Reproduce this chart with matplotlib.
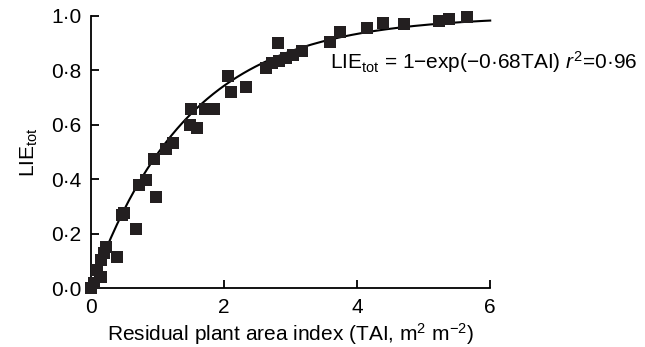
import numpy as np
import matplotlib
matplotlib.use('Agg')
from matplotlib import pyplot as plt

plt.rcParams['font.family'] = ['Liberation Sans', 'DejaVu Sans']
plt.rcParams['mathtext.fontset'] = 'custom'
plt.rcParams['mathtext.rm'] = 'Liberation Sans'
plt.rcParams['mathtext.it'] = 'Liberation Sans:italic'

#%% Data
tai = [0.0, 0.05, 0.09, 0.15, 0.15, 0.19, 0.23, 0.39, 0.46, 0.50,
       0.68, 0.72, 0.83, 0.98, 0.95, 1.13, 1.23, 1.50, 1.49, 1.60,
       1.71, 1.85, 2.06, 2.10, 2.33, 2.63, 2.72, 2.81, 2.83, 2.93,
       3.04, 3.17, 3.60, 3.74, 4.15, 4.39, 4.71, 5.23, 5.38, 5.65]
lie = [0.0, 0.018, 0.066, 0.042, 0.103, 0.128, 0.151, 0.114, 0.269, 0.276,
       0.216, 0.379, 0.397, 0.334, 0.474, 0.51, 0.533, 0.658, 0.60, 0.59,
       0.658, 0.658, 0.78, 0.72, 0.74, 0.81, 0.827, 0.90, 0.835, 0.845,
       0.856, 0.871, 0.905, 0.94, 0.955, 0.975, 0.97, 0.98, 0.99, 0.995]
k_fit = 0.68
xticks = [0, 2, 4, 6]
yticks = [0.0, 0.2, 0.4, 0.6, 0.8, 1.0]
ytick_labels = ['0·0', '0·2', '0·4', '0·6', '0·8', '1·0']

#%% Plot
fig = plt.figure(figsize=(6.45, 3.47), dpi=100)
ax = fig.add_axes([0.141, 0.170, 0.619, 0.784])

xf = np.linspace(0, 6, 200)
ax.plot(xf, 1 - np.exp(-k_fit * xf), color='black', lw=1.5, clip_on=False)
ax.plot(tai, lie, 's', color='#231f20', ms=8.3, mew=0, clip_on=False, zorder=3)

ax.set_xlim(0, 6)
ax.set_ylim(0, 1)
ax.set_xticks(xticks)
ax.set_xticklabels([str(v) for v in xticks])
ax.set_yticks(yticks)
ax.set_yticklabels(ytick_labels)
for s in ['top', 'right']:
    ax.spines[s].set_visible(False)
for s in ['left', 'bottom']:
    ax.spines[s].set_linewidth(1.3)
ax.tick_params(direction='in', length=6, width=1.3, labelsize=15, pad=7)

ax.set_xlabel(r'Residual plant area index (TAI, m$^{\mathregular{2}}$ m$^{\mathregular{-2}}$)',
              fontsize=15, labelpad=3)
ax.set_ylabel(r'LIE$_{\mathregular{tot}}$', fontsize=15, labelpad=8)

ax.text(3.6, 0.83, r'LIE$_{\mathregular{tot}}$ = 1−exp(−0·68TAI) $r^{\mathregular{2}}$=0·96',
        fontsize=15, ha='left', va='center')

fig.savefig('out.png', dpi=100)
